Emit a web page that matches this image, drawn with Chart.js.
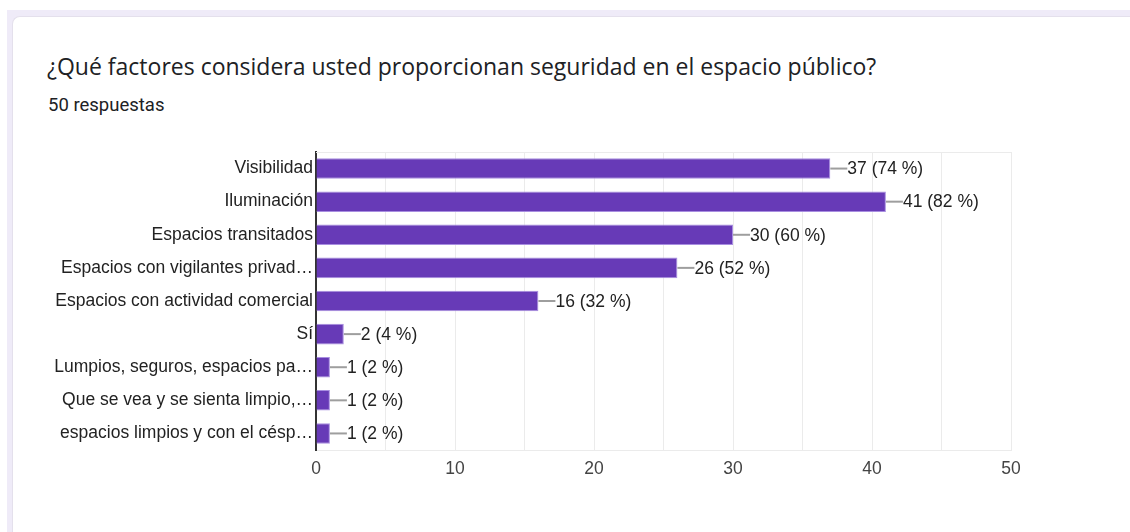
<!DOCTYPE html>
<html><head><meta charset="utf-8">
<script src="https://cdn.jsdelivr.net/npm/chart.js@4"></script>
<style>
html,body{margin:0;padding:0;background:#fff;width:1130px;height:532px;overflow:hidden;}
#bg{position:absolute;left:7px;top:10px;width:1123px;height:522px;background:#efebf8;}
#card{position:absolute;left:12px;top:16px;width:1118px;height:516px;background:#fff;border-top-left-radius:8px;border-top:1px solid #e4e0ec;border-left:1px solid #e4e0ec;}
#title{position:absolute;left:47px;top:50px;font-family:"Open Sans",Roboto,sans-serif;font-size:23px;color:#202124;white-space:nowrap;}
#sub{position:absolute;left:48px;top:94px;font-family:Roboto,"Open Sans",sans-serif;font-size:18.5px;color:#202124;}
#wrap{position:absolute;left:0;top:0;width:1130px;height:532px;}
</style></head><body>
<div id="bg"></div><div id="card"></div>
<div id="title">¿Qué factores considera usted proporcionan seguridad en el espacio público?</div>
<div id="sub">50 respuestas</div>
<div id="wrap"><canvas id="c" width="1130" height="532"></canvas></div>
<script>
const categories = ["Visibilidad","Iluminación","Espacios transitados","Espacios con vigilantes privad…","Espacios con actividad comercial","Sí","Lumpios, seguros, espacios pa…","Que se vea y se sienta limpio,…","espacios limpios y con el césp…"];
const counts = [37,41,30,26,16,2,1,1,1];
const totalResponses = 50;
const xTickLabels = [0,10,20,30,40,50];

const labelPlugin = {
  id:'valueLabels',
  afterDatasetsDraw(chart){
    const ctx = chart.ctx;
    const meta = chart.getDatasetMeta(0);
    const area = chart.chartArea;
    ctx.save();
    ctx.strokeStyle = '#ebebeb'; ctx.lineWidth = 1;
    ctx.beginPath(); ctx.moveTo(area.left, area.top+0.5); ctx.lineTo(area.right, area.top+0.5); ctx.stroke();
    meta.data.forEach((bar,i)=>{
      const x = bar.x, y = bar.y;
      ctx.strokeStyle = '#9e9e9e'; ctx.lineWidth = 2;
      ctx.beginPath(); ctx.moveTo(x, y); ctx.lineTo(x+17, y); ctx.stroke();
      ctx.fillStyle = '#222';
      ctx.font = '17.5px "Liberation Sans", Arial, sans-serif';
      ctx.textBaseline = 'middle'; ctx.textAlign = 'left';
      const pct = Math.round(counts[i]/totalResponses*100);
      ctx.fillText(counts[i] + ' (' + pct + ' %)', x+17, y+1);
    });
    ctx.restore();
  }
};

new Chart(document.getElementById('c'), {
  type:'bar',
  data:{labels:categories, datasets:[{data:counts, backgroundColor:'#673ab7', borderColor:'#a88ee0', borderWidth:1, borderSkipped:'left', barPercentage:0.62, categoryPercentage:1}]},
  options:{
    indexAxis:'y', responsive:false, animation:false,
    layout:{padding:{left:0,top:152,right:119,bottom:0}},
    plugins:{legend:{display:false}, tooltip:{enabled:false}},
    scales:{
      x:{min:0,max:50,
        afterFit(s){ s.height = 82; },
        ticks:{stepSize:5, autoSkip:false, maxRotation:0, padding:9, color:'#444', font:{family:'"Liberation Sans", Arial', size:17.5},
          callback(v){ return xTickLabels.includes(v) ? String(v) : ''; }},
        grid:{color:'#ebebeb', drawTicks:false, lineWidth:1},
        border:{color:'#ebebeb'}
      },
      y:{
        afterFit(s){ s.width = 316; },
        ticks:{padding:3, color:'#222', font:{family:'"Liberation Sans", Arial', size:17.5}},
        grid:{display:false, drawTicks:false},
        border:{color:'#333', width:2}
      }
    }
  },
  plugins:[labelPlugin]
});
</script>
</body></html>
